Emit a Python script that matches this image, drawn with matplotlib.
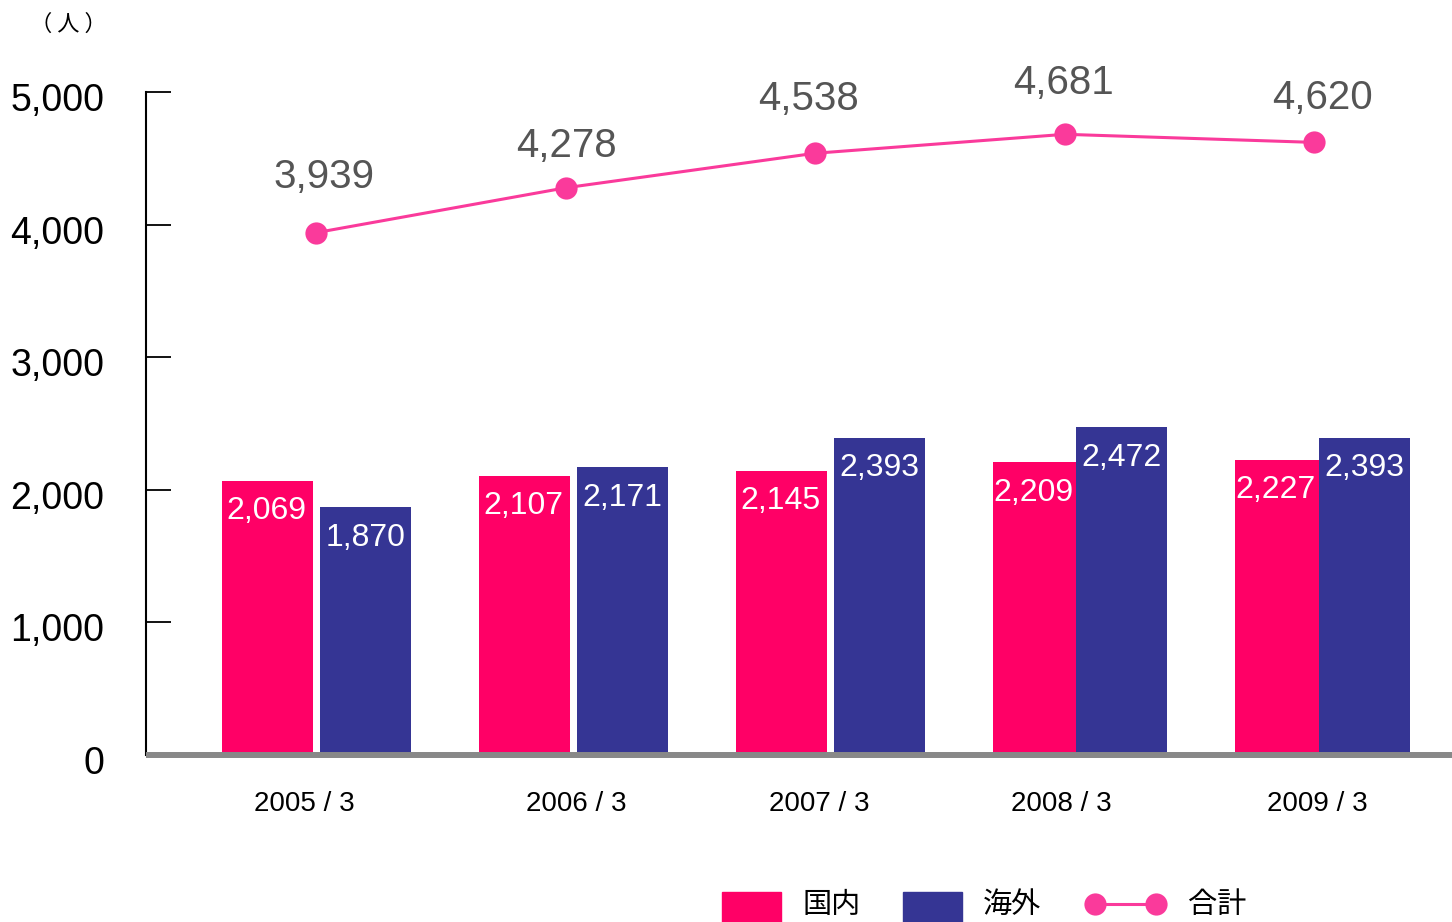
import matplotlib.pyplot as plt
from matplotlib.patches import Rectangle
from matplotlib.lines import Line2D
from matplotlib.ticker import FuncFormatter
from matplotlib.transforms import ScaledTranslation

# data
years = ["2005 / 3", "2006 / 3", "2007 / 3", "2008 / 3", "2009 / 3"]
domestic = [2069, 2107, 2145, 2209, 2227]
overseas = [1870, 2171, 2393, 2472, 2393]
total = [3939, 4278, 4538, 4681, 4620]

# layout (x in pixel-like units of the axis)
pink_x = [267.5, 524.5, 781.5, 1034.5, 1277]
pink_w = [91, 91, 91, 83, 84]
blue_x = [365.5, 622.5, 879.5, 1121.5, 1364.5]
line_x = [316, 566, 815, 1065, 1314]
label_x = [304, 576, 819, 1061, 1317]
# offsets (points) of the total labels from their markers
total_off = [(6, 40), (0, 30), (-5, 39), (-1, 37), (6, 32)]

PINK = "#FF0066"
BLUE = "#353594"
LINE = "#FA3A9B"

plt.rcParams["font.family"] = ["Liberation Sans", "Noto Sans CJK JP"]

W, H = 1452, 922
fig = plt.figure(figsize=(W / 100, H / 100), dpi=100)
ax = fig.add_axes([146 / W, (H - 755) / H, 1 - 146 / W, (755 - 92) / H])

ax.bar(pink_x, domestic, width=pink_w, color=PINK, zorder=2)
ax.bar(blue_x, overseas, width=91, color=BLUE, zorder=2)
ax.plot(line_x, total, color=LINE, lw=2.2, marker="o", ms=16,
        markeredgewidth=0, zorder=3, clip_on=False)

for x, v in zip(pink_x, domestic):
    ax.annotate(f"{v:,}", (x, v), xytext=(-1, -22), textcoords="offset points",
                ha="center", va="center", color="white", fontsize=23)
for x, v in zip(blue_x, overseas):
    ax.annotate(f"{v:,}", (x, v), xytext=(0, -22), textcoords="offset points",
                ha="center", va="center", color="white", fontsize=23)
for x, v, off in zip(line_x, total, total_off):
    ax.annotate(f"{v:,}", (x, v), xytext=off, textcoords="offset points",
                ha="center", va="center", color="#555555", fontsize=29,
                annotation_clip=False)

ax.set_xlim(146, W)
ax.set_ylim(0, 5000)
ax.set_yticks(range(0, 5001, 1000))
ax.yaxis.set_major_formatter(FuncFormatter(lambda v, p: f"{int(v):,}"))
ax.set_xticks(label_x)
ax.set_xticklabels(years)

ax.tick_params(axis="y", direction="in", length=18, width=1.3, pad=30,
               labelsize=27, color="black")
ax.tick_params(axis="x", length=0, pad=26, labelsize=20)
shift = ScaledTranslation(0, -5 / 100, fig.dpi_scale_trans)
for lab in ax.get_yticklabels():
    lab.set_transform(lab.get_transform() + shift)

for s in ["top", "right"]:
    ax.spines[s].set_visible(False)
ax.spines["left"].set_linewidth(1.5)
ax.spines["bottom"].set_color("#888888")
ax.spines["bottom"].set_linewidth(4.3)
ax.spines["bottom"].set_capstyle("butt")
ax.spines["bottom"].set_zorder(4)

cjk = ["Noto Sans CJK JP", "DejaVu Sans"]
fig.text(68 / W, 1 - 24 / H, "（ 人 ）", ha="center", va="center", fontsize=16,
         family=cjk)


# manual legend at the bottom
def fx(x):
    return x / W


def fy(y):
    return 1 - y / H


fig.add_artist(Rectangle((fx(722), fy(935)), 59 / W, 43 / H, color=PINK,
                         transform=fig.transFigure))
fig.add_artist(Rectangle((fx(903), fy(935)), 59 / W, 43 / H, color=BLUE,
                         transform=fig.transFigure))
fig.add_artist(Line2D([fx(1095), fx(1156)], [fy(904), fy(904)], color=LINE,
                      lw=2.2, marker="o", ms=16, markeredgewidth=0,
                      transform=fig.transFigure))
for x, t in [(803, "国内"), (983, "海外"), (1188, "合計")]:
    fig.text(fx(x), fy(905), t, ha="left", va="center", fontsize=21,
             family=cjk)

fig.savefig("out.png", dpi=100)
